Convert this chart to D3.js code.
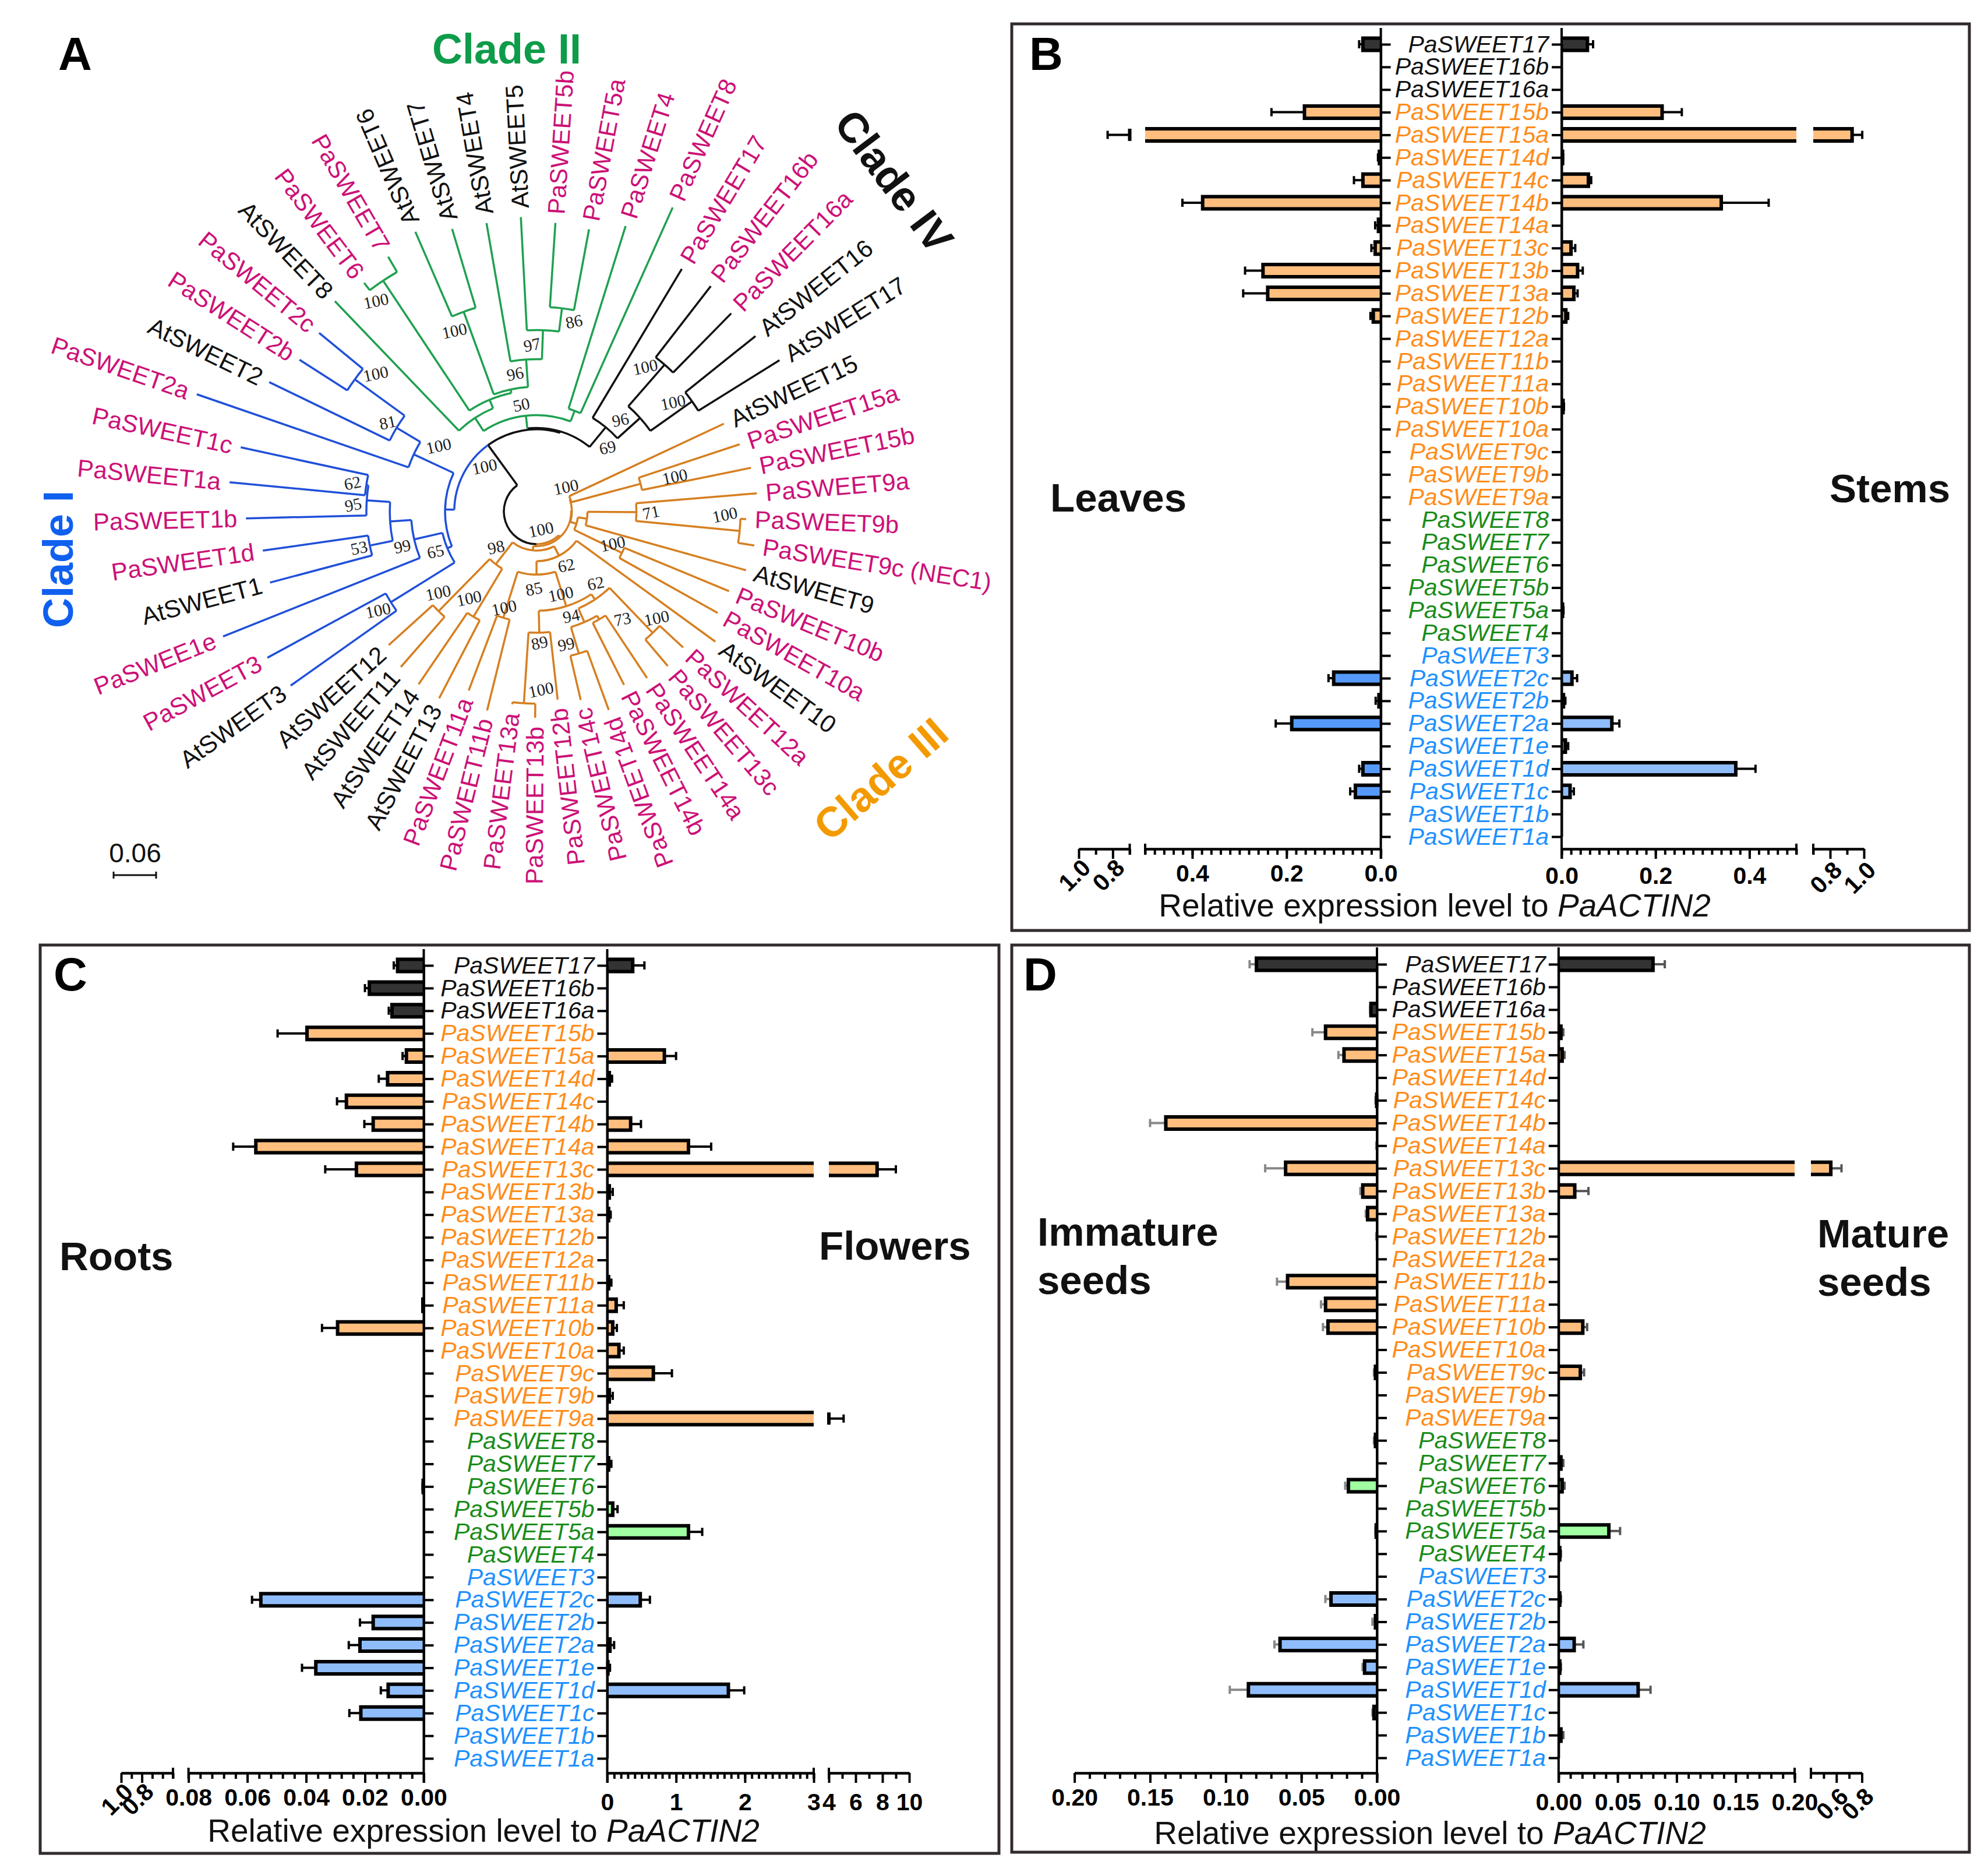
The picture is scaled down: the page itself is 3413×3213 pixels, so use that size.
<!DOCTYPE html>
<html lang="en">
<head>
    <meta charset="UTF-8">
    <title>PaSWEET phylogeny and expression</title>
    <script src="https://d3js.org/d3.v7.min.js" charset="utf-8"></script>
    <style>
        body { margin: 0; background: #fff; }
        svg { display: block; }
        text { font-family: "Liberation Sans", Arial, sans-serif; }
    </style>
</head>
<body>
    <div id="vis"></div>

    <script>

        // row order of the bar panels, top to bottom
        var genes = ["PaSWEET17", "PaSWEET16b", "PaSWEET16a", "PaSWEET15b", "PaSWEET15a", "PaSWEET14d", "PaSWEET14c", "PaSWEET14b", "PaSWEET14a",
            "PaSWEET13c", "PaSWEET13b", "PaSWEET13a", "PaSWEET12b", "PaSWEET12a", "PaSWEET11b", "PaSWEET11a", "PaSWEET10b", "PaSWEET10a",
            "PaSWEET9c", "PaSWEET9b", "PaSWEET9a", "PaSWEET8", "PaSWEET7", "PaSWEET6", "PaSWEET5b", "PaSWEET5a", "PaSWEET4",
            "PaSWEET3", "PaSWEET2c", "PaSWEET2b", "PaSWEET2a", "PaSWEET1e", "PaSWEET1d", "PaSWEET1c", "PaSWEET1b", "PaSWEET1a"];
        var geneClades = ["IV", "IV", "IV", "III", "III", "III", "III", "III", "III",
            "III", "III", "III", "III", "III", "III", "III", "III", "III",
            "III", "III", "III", "II", "II", "II", "II", "II", "II",
            "I", "I", "I", "I", "I", "I", "I", "I", "I"];

        // mean expression and error, same order as genes
        var leavesMean = [.038, 0, 0, .162, .70, .003, .038, .378, .005, .012, .25, .24, .016, 0, 0, 0, 0, 0, 0, 0, 0, 0, 0, 0, 0, 0, 0, 0, .10, .004, .189, 0, .038, .054, 0, 0];
        var leavesErr = [.008, 0, 0, .07, .13, .003, .019, .043, .007, .008, .038, .052, .006, 0, 0, 0, 0, 0, 0, 0, 0, 0, 0, 0, 0, 0, 0, 0, .011, .007, .034, 0, .008, .011, 0, 0];
        var stemsMean = [.055, 0, 0, .214, .93, .002, .057, .34, 0, .02, .034, .026, .009, 0, 0, 0, .003, 0, 0, 0, 0, 0, 0, 0, 0, .002, 0, 0, .022, .004, .107, .008, .371, .018, 0, 0];
        var stemsErr = [.012, 0, 0, .042, .06, .001, .006, .101, 0, .009, .011, .008, .005, 0, 0, 0, .002, 0, 0, 0, 0, 0, 0, 0, 0, .002, 0, 0, .011, .004, .016, .006, .042, .008, 0, 0];
        var rootsMean = [.0089, .0185, .0108, .0397, .0059, .0123, .0263, .0172, .0571, .0229, 0, 0, 0, 0, 0, .0003, .0293, 0, 0, 0, 0, 0, 0, .0002, 0, 0, 0, 0, .0554, .0172, .0217, .0367, .0121, .0214, 0, 0];
        var rootsErr = [.0013, .0015, .0011, .01, .0013, .003, .0032, .003, .0077, .0106, 0, 0, 0, 0, 0, .0002, .0053, 0, 0, 0, 0, 0, 0, .0002, 0, 0, 0, 0, .003, .0045, .0038, .0047, .0025, .0039, 0, 0];
        var flowersMean = [.37, 0, 0, 0, .83, .03, 0, .34, 1.18, 7.6, .03, .02, 0, 0, .02, .13, .08, .17, .67, .03, 4.0, 0, .02, 0, .08, 1.18, 0, 0, .48, 0, .04, .01, 1.76, 0, 0, 0];
        var flowersErr = [.17, 0, 0, 0, .17, .04, 0, .15, .33, 1.4, .05, .03, 0, 0, .04, .11, .06, .07, .27, .05, 1.1, 0, .04, 0, .07, .2, 0, 0, .14, 0, .06, .03, .23, 0, 0, 0];
        var immatureMean = [.0797, 0, .004, .034, .0218, 0, .0002, .1396, 0, .0604, .0094, .0062, 0, 0, .0591, .034, .0324, 0, .001, 0, 0, .001, 0, .0189, 0, .0005, 0, 0, .0304, .001, .0641, .0082, .085, .002, 0, 0];
        var immatureErr = [.0045, 0, .0005, .0087, .0037, 0, .0008, .0104, .0005, .0135, .0016, .0012, .0005, 0, .007, .003, .0033, 0, .001, 0, 0, .001, 0, .0021, 0, .0005, 0, 0, .0037, .002, .0037, .0013, .0123, .001, 0, 0];
        var matureMean = [.08, 0, 0, .002, .003, 0, 0, 0, 0, .556, .0137, 0, 0, 0, 0, 0, .0205, 0, .0184, 0, 0, 0, .002, .003, 0, .0426, .001, 0, .001, 0, .0132, .001, .0674, 0, .002, 0];
        var matureErr = [.01, 0, 0, .002, .002, 0, 0, 0, 0, .084, .0116, 0, 0, 0, 0, 0, .0037, 0, .0032, 0, 0, 0, .002, .002, 0, .0095, .001, 0, .001, 0, .0078, .001, .0105, 0, .002, 0];

        // tree: depth is the distance from the root in substitutions per site
        function L(name, depth) { return { name: name, depth: depth }; }
        function N(depth, support) {
            return { depth: depth, support: support, children: Array.prototype.slice.call(arguments, 2) };
        }

        var cladeITree = N(.129, null,
            N(.136, null,
                N(.242, 100, L("AtSWEET3", .425), L("PaSWEET3", .432)),
                N(.177, 65, L("PaSWEE1e", .476),
                    N(.207, 99,
                        N(.240, 53, L("AtSWEET1", .389), L("PaSWEET1d", .390)),
                        N(.240, 95, L("PaSWEET1b", .410), N(.243, 62, L("PaSWEET1a", .435), L("PaSWEET1c", .427)))))),
            N(.191, 100, L("PaSWEET2a", .507),
                N(.230, 81, L("AtSWEET2", .419), N(.317, 100, L("PaSWEET2b", .397), L("PaSWEET2c", .397)))));

        var cladeIITree = N(.136, 50,
            N(.158, null, L("AtSWEET8", .411),
                N(.171, null,
                    N(.391, 100, L("PaSWEET6", .404), L("PaSWEET7", .416)),
                    N(.176, null,
                        N(.300, 100, L("AtSWEET6", .430), L("AtSWEET7", .416)),
                        N(.215, 96, L("AtSWEET4", .413),
                            N(.256, 97, L("AtSWEET5", .416), N(.289, 86, L("PaSWEET5b", .408), L("PaSWEET5a", .405))))))),
            N(.152, null, L("PaSWEET4", .422), L("PaSWEET8", .470)));

        var cladeIVTree = N(.154, 69, L("PaSWEET17", .399),
            N(.197, 96,
                N(.275, 100, L("PaSWEET16b", .402), L("PaSWEET16a", .392)),
                N(.269, 100, L("AtSWEET16", .396), L("AtSWEET17", .404))));

        var cladeIIITree = N(.049, 100,
            N(.050, null,
                N(.051, 100, L("AtSWEET15", .292), N(.152, 100, L("PaSWEET15a", .302), L("PaSWEET15b", .309))),
                N(.059, null,
                    N(.072, null,
                        N(.141, 71, L("PaSWEET9a", .312), N(.288, 100, L("PaSWEET9b", .296), L("PaSWEET9c (NEC1)", .311))),
                        L("AtSWEET9", .307)),
                    N(.134, 100, L("PaSWEET10b", .294), L("PaSWEET10a", .293)))),
            N(.055, null,
                N(.070, 62, L("AtSWEET10", .312),
                    N(.089, 85,
                        N(.140, 100,
                            N(.149, 62,
                                N(.237, 100, L("PaSWEET12a", .282), L("PaSWEET13c", .286)),
                                N(.170, 94,
                                    N(.176, 73, L("PaSWEET14a", .282), L("PaSWEET14b", .274)),
                                    N(.209, 99, L("PaSWEET14d", .298), L("PaSWEET14c", .273)))),
                            N(.171, 89, L("PaSWEET12b", .267), N(.271, 100, L("PaSWEET13b", .291), L("PaSWEET13a", .274)))),
                        N(.157, 100, L("PaSWEET11b", .289), L("PaSWEET11a", .270)))),
                N(.094, 98,
                    N(.173, 100, L("AtSWEET13", .297), L("AtSWEET14", .295)),
                    N(.197, 100, L("AtSWEET11", .291), L("AtSWEET12", .281)))));

        var stemNode = N(.118, null, cladeIITree, cladeIVTree);
        var treeData = N(.046, null, N(.116, 100, cladeITree, stemNode), cladeIIITree);
        cladeITree.clade = "I"; cladeIITree.clade = "II"; cladeIIITree.clade = "III"; cladeIVTree.clade = "IV";

        // where each support value sits next to its node, pre-order: [degrees, px]
        var supportShift = [[-13, -23], [0, 26], [-8.7, -29], [-10.6, -14], [0, 19], [-1.6, 23], [0, 24], [8.9, -30], [0, 18], [4.6, -22],
            [-1.8, 20], [-3.7, -21], [-4.4, -24], [-4.9, -22], [-3.6, -25], [4, -19], [8.5, -23], [-5.5, -26], [-4.2, -24], [-3.4, -27],
            [29, -28], [-20, 4], [0.7, 60], [0, 25], [-4.5, -27], [-3, -21], [-2, 20], [2, 24], [1, -23], [-6, -22],
            [-4.7, -13], [5, -18], [-8.5, 22], [4, -21], [0, 17], [-5.2, -24], [1.3, -17], [11, -22], [7, -22], [6, -21]];

        var width = 3413;
        var height = 3213;

        var textColors = { I: "#1E90FF", II: "#1A8C1A", III: "#FF8C1A", IV: "#111111" };
        var barColors = { I: "#8FBDFB", II: "#A0FFA0", III: "#FFBE7D", IV: "#333333" };
        var branchColors = { I: "#2050D8", II: "#1FA050", III: "#D67F20", IV: "#111111" };

        var svg = d3.select("#vis")
            .append("svg")
              .attr("width", width)
              .attr("height", height);

        /* ---------- panel A ---------- */

        var treeX = 921, treeY = 878;
        var treeScale = d3.scaleLinear().domain([0, 0.06]).range([0, 73]);
        var tree = svg.append("g").attr("transform", "translate(" + treeX + "," + treeY + ")");

        var root = d3.hierarchy(treeData);
        var leaves = root.leaves();
        var angle = d3.scaleLinear().domain([0, leaves.length]).range([-125.3, 234.7]);
        leaves.forEach(function(d, i) { d.theta = angle(i); });
        root.eachAfter(function(d) {
            if (d.children) d.theta = (d.children[0].theta + d.children[d.children.length - 1].theta) / 2;
        });
        root.theta = -180;

        function rad(a) { return a * Math.PI / 180; }
        function branchColor(d) {
            var a = d.ancestors().find(function(n) { return n.data.clade; });
            return a ? branchColors[a.data.clade] : "#111111";
        }

        var branches = [];
        root.each(function(d) {
            if (!d.children) return;
            d.children.forEach(function(c) {
                var childAngle = c.theta;
                // the clade III stem joins the root arc going the long way round
                if (d === root && childAngle > 0) childAngle -= 360;
                var p = d3.path();
                var a0 = rad(d.theta - 90), a1 = rad(childAngle - 90);
                var r = treeScale(d.data.depth);
                p.arc(0, 0, r, a0, a1, a1 < a0);
                var pr = d3.pointRadial(rad(c.theta), r);
                var pc = d3.pointRadial(rad(c.theta), treeScale(c.data.depth));
                p.moveTo(pr[0], pr[1]);
                p.lineTo(pc[0], pc[1]);
                // clade II hangs off the black arc, only its stem is green
                if (d.data === stemNode && c.data.clade === "II") {
                    var q = d3.path();
                    q.arc(0, 0, r, a0, a1, a1 < a0);
                    branches.push({ path: q.toString(), color: branchColors.IV });
                    var s = d3.path();
                    s.moveTo(pr[0], pr[1]);
                    s.lineTo(pc[0], pc[1]);
                    branches.push({ path: s.toString(), color: branchColors.II });
                } else {
                    branches.push({ path: p.toString(), color: branchColor(c) });
                }
            });
        });

        tree.selectAll(".branch")
            .data(branches)
            .enter().append("path")
              .attr("class", "branch")
              .attr("d", function(d) { return d.path; })
              .attr("fill", "none")
              .attr("stroke", function(d) { return d.color; })
              .attr("stroke-width", 3.5);

        function leafFlipped(d) { return d.theta <= -27 || d.theta >= 157; }

        tree.selectAll(".leaf")
            .data(leaves)
            .enter().append("text")
              .attr("class", "leaf")
              .attr("transform", function(d) {
                  var r = treeScale(d.data.depth) + 15;
                  return leafFlipped(d)
                      ? "rotate(" + (d.theta + 90) + ") translate(" + (-r) + ",0)"
                      : "rotate(" + (d.theta - 90) + ") translate(" + r + ",0)";
              })
              .attr("dy", ".35em")
              .attr("text-anchor", function(d) { return leafFlipped(d) ? "end" : "start"; })
              .attr("font-size", 42)
              .attr("fill", function(d) { return d.data.name.indexOf("At") === 0 ? "#111111" : "#CC1177"; })
              .text(function(d) { return d.data.name; });

        var supported = [];
        root.eachBefore(function(d) { if (d.data.support != null) supported.push(d); });

        tree.selectAll(".support")
            .data(supported)
            .enter().append("text")
              .attr("class", "support")
              .attr("transform", function(d, i) {
                  var s = supportShift[i];
                  var p = d3.pointRadial(rad(d.theta + s[0]), treeScale(d.data.depth) + s[1]);
                  return "translate(" + p[0] + "," + p[1] + ") rotate(-12)";
              })
              .attr("dy", ".35em")
              .attr("text-anchor", "middle")
              .style("font-family", '"Liberation Serif", "Times New Roman", serif')
              .attr("font-size", 29)
              .attr("fill", "#222")
              .text(function(d) { return d.data.support; });

        // scale bar
        var barScale = svg.append("g").attr("transform", "translate(195,1502)");
        barScale.append("line").attr("x2", treeScale(0.06)).attr("stroke", "#111").attr("stroke-width", 3);
        [0, 0.06].forEach(function(v) {
            barScale.append("line").attr("x1", treeScale(v)).attr("x2", treeScale(v))
                .attr("y1", -6).attr("y2", 6).attr("stroke", "#111").attr("stroke-width", 3);
        });
        svg.append("text").attr("x", 232).attr("y", 1480).attr("text-anchor", "middle")
            .attr("font-size", 46).attr("fill", "#111").text("0.06");

        function cladeLabel(label, x, y, rot, color) {
            svg.append("text")
                .attr("transform", "translate(" + x + "," + y + ") rotate(" + rot + ")")
                .attr("dy", ".35em")
                .attr("text-anchor", "middle")
                .attr("font-size", 72)
                .attr("font-weight", "bold")
                .attr("fill", color)
                .text(label);
        }
        cladeLabel("Clade II", 870, 84, 0, "#0E9C4A");
        cladeLabel("Clade IV", 1535, 311, 53, "#111111");
        cladeLabel("Clade I", 100, 960, -90, "#1060F0");
        cladeLabel("Clade III", 1512, 1337, -41, "#F39A00");

        /* ---------- panels B, C, D ---------- */

        function thickAxis(g) {
            g.selectAll("line, path").attr("stroke-width", 4);
        }

        // one half of a panel: bars, whiskers and a (possibly broken) x axis
        function drawSide(p, o) {
            var low = d3.scaleLinear().domain([0, o.lowMax]).range([o.x0, o.lowEnd]);
            var up = o.upDomain ? d3.scaleLinear().domain(o.upDomain).range(o.upRange) : null;
            function x(v) { return up && v > o.lowMax ? up(Math.max(v, o.upDomain[0])) : low(v); }

            var rows = genes.map(function(g, i) {
                return { gene: g, clade: geneClades[i], mean: o.mean[i], err: o.err[i] };
            }).filter(function(d) { return d.mean + d.err > 0; });

            var barH = 21;

            p.g.selectAll(null).data(rows).enter().append("path")
                .attr("fill", "none")
                .attr("stroke", o.errColor || "#000")
                .attr("stroke-width", 4)
                .attr("d", function(d) {
                    var y = p.y(d.gene), xa = x(d.mean), xb = x(d.mean + d.err);
                    return "M" + xa + "," + y + "H" + xb + "M" + xb + "," + (y - 7) + "V" + (y + 7);
                });

            var bars = rows.filter(function(d) { return d.mean > 0; });

            function segments(d) {
                if (!up || d.mean <= o.lowMax) return [[o.x0, x(d.mean), true]];
                return [[o.x0, o.lowEnd, false], [up(o.upDomain[0]), x(d.mean), true]];
            }

            bars.forEach(function(d) {
                var y = p.y(d.gene), top = y - barH / 2, bot = y + barH / 2;
                var fill = d.clade === "I" && o.fillI ? o.fillI : barColors[d.clade];
                segments(d).forEach(function(s) {
                    p.g.append("rect")
                        .attr("x", Math.min(s[0], s[1]))
                        .attr("y", top)
                        .attr("width", Math.abs(s[1] - s[0]))
                        .attr("height", barH)
                        .attr("fill", fill);
                    p.g.append("path")
                        .attr("fill", "none")
                        .attr("stroke", "#000")
                        .attr("stroke-width", 6)
                        .attr("d", s[2]
                            ? "M" + s[0] + "," + top + "H" + s[1] + "V" + bot + "H" + s[0]
                            : "M" + s[0] + "," + top + "H" + s[1] + "M" + s[0] + "," + bot + "H" + s[1]);
                });
            });

            var axisG = p.g.append("g").attr("transform", "translate(0," + p.axisY + ")");

            function oneAxis(scale, major, minor, rotated, pad, format) {
                var gMinor = axisG.append("g").call(d3.axisBottom(scale).tickValues(minor).tickSize(10).tickSizeOuter(0).tickFormat(""));
                gMinor.call(thickAxis);
                var gMajor = axisG.append("g").call(d3.axisBottom(scale).tickValues(major).tickSize(17).tickSizeOuter(0).tickPadding(pad).tickFormat(d3.format(format)));
                gMajor.call(thickAxis);
                gMajor.selectAll("text")
                    .attr("font-size", 41)
                    .attr("font-weight", "bold")
                    .style("font-family", '"Liberation Sans", Arial, sans-serif');
                if (rotated) {
                    gMajor.selectAll("text")
                        .attr("y", 0)
                        .attr("dy", ".35em")
                        .attr("text-anchor", "middle")
                        .attr("transform", "translate(-8," + (17 + pad + 21) + ") rotate(-45)");
                }
            }

            oneAxis(low, o.major, o.minor, false, o.pad, o.format);
            if (up) {
                oneAxis(up, o.upMajor, o.upMinor, o.upRotated, o.upRotated ? o.pad - 3 : o.pad, o.upFormat);
                [o.lowEnd, o.upRange[0]].forEach(function(cap) {
                    axisG.append("line")
                        .attr("x1", cap).attr("x2", cap)
                        .attr("y1", -9).attr("y2", 10)
                        .attr("stroke", "#000").attr("stroke-width", 4);
                });
            }
        }

        function drawPanel(o) {
            var g = svg.append("g");
            g.append("rect")
                .attr("x", o.frame[0]).attr("y", o.frame[1])
                .attr("width", o.frame[2] - o.frame[0]).attr("height", o.frame[3] - o.frame[1])
                .attr("fill", "none").attr("stroke", "#332C2C").attr("stroke-width", 5);

            var y = d3.scalePoint().domain(genes).range(o.rows);
            var p = { g: g, y: y, axisY: o.axisY };

            drawSide(p, o.left);
            drawSide(p, o.right);

            var gl = g.append("g").attr("transform", "translate(" + o.left.x0 + ",0)")
                .call(d3.axisRight(y).tickSize(17).tickSizeOuter(0).tickFormat(""));
            gl.call(thickAxis);
            var gr = g.append("g").attr("transform", "translate(" + o.right.x0 + ",0)")
                .call(d3.axisLeft(y).tickSize(17).tickSizeOuter(0).tickPadding(5));
            gr.call(thickAxis);
            gr.selectAll("text")
                .attr("font-size", 41)
                .attr("font-style", "italic")
                .style("font-family", '"Liberation Sans", Arial, sans-serif')
                .attr("fill", function(d, i) { return textColors[geneClades[i]]; });

            [o.left.x0, o.right.x0].forEach(function(x) {
                g.append("line")
                    .attr("x1", x).attr("x2", x)
                    .attr("y1", o.axisTop).attr("y2", o.axisY + 17)
                    .attr("stroke", "#000").attr("stroke-width", 4);
            });

            var title = g.append("text")
                .attr("x", o.titleX).attr("y", o.titleY)
                .attr("text-anchor", "middle")
                .attr("font-size", 55)
                .attr("fill", "#111");
            title.append("tspan").text("Relative expression level to ");
            title.append("tspan").attr("font-style", "italic").text("PaACTIN2");

            o.tissues.forEach(function(t) {
                g.append("text")
                    .attr("x", t[1]).attr("y", t[2])
                    .attr("font-size", 69)
                    .attr("font-weight", "bold")
                    .attr("fill", "#111")
                    .text(t[0]);
            });
        }

        var tickStep = function(a, b, s) { return d3.range(a, b + s / 2, s); };

        drawPanel({
            frame: [1737, 41, 3381, 1597],
            rows: [76, 1436],
            axisY: 1457, axisTop: 48,
            titleX: 2463, titleY: 1573,
            tissues: [["Leaves", 1803, 878], ["Stems", 3141, 862]],
            left: {
                mean: leavesMean, err: leavesErr, x0: 2370.6, lowMax: .5, lowEnd: 1966,
                upDomain: [.7, 1], upRange: [1939.5, 1852],
                major: [0, .2, .4], minor: tickStep(0, .5, .02),
                upMajor: [.8, 1], upMinor: [.7, .9], upRotated: true,
                format: ".1f", upFormat: ".1f", pad: 10, fillI: "#559AFA"
            },
            right: {
                mean: stemsMean, err: stemsErr, x0: 2681, lowMax: .5, lowEnd: 3084,
                upDomain: [.7, 1], upRange: [3113, 3200],
                major: [0, .2, .4], minor: tickStep(0, .5, .02),
                upMajor: [.8, 1], upMinor: [.7, .9], upRotated: true,
                format: ".1f", upFormat: ".1f", pad: 14
            }
        });

        drawPanel({
            frame: [69, 1622, 1715, 3181],
            rows: [1657, 3018],
            axisY: 3043, axisTop: 1629,
            titleX: 830, titleY: 3161,
            tissues: [["Roots", 102, 2180], ["Flowers", 1406, 2162]],
            left: {
                mean: rootsMean, err: rootsErr, x0: 727.5, lowMax: .08, lowEnd: 323.6,
                upDomain: [.5, 1], upRange: [297, 208],
                major: [0, .02, .04, .06, .08], minor: tickStep(0, .08, .004),
                upMajor: [.8, 1], upMinor: [.5, .6, .7, .9], upRotated: true,
                format: ".2f", upFormat: ".1f", pad: 10
            },
            right: {
                mean: flowersMean, err: flowersErr, x0: 1042.5, lowMax: 3, lowEnd: 1397,
                upDomain: [4, 10], upRange: [1423, 1561],
                major: [0, 1, 2, 3], minor: tickStep(0, 3, .1),
                upMajor: [4, 6, 8, 10], upMinor: [5, 7, 9], upRotated: false,
                format: "d", upFormat: "d", pad: 18
            }
        });

        drawPanel({
            frame: [1737, 1622, 3381, 3179],
            rows: [1655, 3017],
            axisY: 3043, axisTop: 1626,
            titleX: 2455, titleY: 3165,
            tissues: [["Immature", 1781, 2138], ["seeds", 1781, 2221], ["Mature", 3120, 2141], ["seeds", 3120, 2224]],
            left: {
                mean: immatureMean, err: immatureErr, errColor: "#888", x0: 2364, lowMax: .2, lowEnd: 1844.6,
                major: [0, .05, .1, .15, .2], minor: tickStep(0, .2, .01),
                format: ".2f", pad: 10
            },
            right: {
                mean: matureMean, err: matureErr, errColor: "#555", x0: 2675.8, lowMax: .2, lowEnd: 3081,
                upDomain: [.4, .8], upRange: [3109, 3196.5],
                major: [0, .05, .1, .15, .2], minor: tickStep(0, .2, .01),
                upMajor: [.6, .8], upMinor: [.5, .7], upRotated: true,
                format: ".2f", upFormat: ".1f", pad: 18
            }
        });

        // panel letters
        [["A", 100, 120], ["B", 1767, 120], ["C", 92, 1700], ["D", 1757, 1700]].forEach(function(d) {
            svg.append("text")
                .attr("x", d[1]).attr("y", d[2])
                .attr("font-size", 80)
                .attr("font-weight", "bold")
                .attr("fill", "#000")
                .text(d[0]);
        });

    </script>
</body>
</html>
